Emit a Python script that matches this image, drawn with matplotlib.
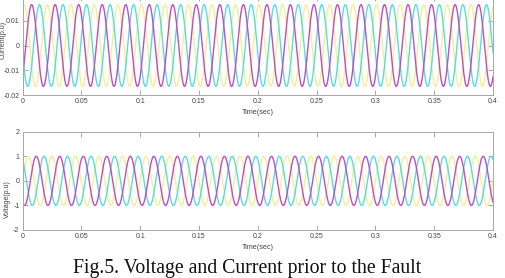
import numpy as np
import matplotlib
matplotlib.use('Agg')
import matplotlib.pyplot as plt

plt.rcParams['font.family'] = ['Liberation Sans', 'DejaVu Sans']

# signal parameters (50 Hz, 0..0.4 s)
freq = 50.0
t_end = 0.4
phase_names = ['yellow', 'cyan', 'magenta']
phase_colors = ['#f3ef96', '#5adcdc', '#bd4fbf']
current_amp = [0.0165, 0.0165, 0.0165]
current_phase_deg = [70, -170, -50]
voltage_amp = [1.0, 1.0, 1.0]
voltage_phase_deg = [0, 120, -120]

xticks = [0, 0.05, 0.1, 0.15, 0.2, 0.25, 0.3, 0.35, 0.4]
xticklabels = ['0', '0.05', '0.1', '0.15', '0.2', '0.25', '0.3', '0.35', '0.4']
cur_yticks = [-0.02, -0.01, 0, 0.01, 0.02]
cur_yticklabels = ['-0.02', '-0.01', '0', '0.01', '']   # 0.02 is cropped away in the figure
volt_yticks = [-2, -1, 0, 1, 2]
volt_yticklabels = ['-2', '-1', '0', '1', '2']

t = np.linspace(0, t_end, 4001)
w = 2 * np.pi * freq

W, H = 505, 278
fig = plt.figure(figsize=(W / 100, H / 100), dpi=100)

def px_axes(left, right, top, bottom):
    return fig.add_axes([left / W, (H - bottom) / H, (right - left) / W, (bottom - top) / H])

def style(ax, yticks, yticklabels, ylim, ylabel, ylab_x, ylab_y):
    ax.set_xlim(0, t_end)
    ax.set_ylim(*ylim)
    ax.set_xticks(xticks)
    ax.set_xticklabels(xticklabels)
    ax.set_yticks(yticks)
    ax.set_yticklabels(yticklabels)
    ax.tick_params(direction='in', length=3.5, width=0.6, colors='#9a9a9a',
                   labelcolor='#444444', labelsize=5.0, pad=2.2,
                   top=True, right=True)
    for s in ax.spines.values():
        s.set_color('#a8a8a8')
        s.set_linewidth(0.7)
    ax.set_xlabel('Time(sec)', fontsize=5.2, color='#444444', labelpad=3)
    ax.set_ylabel(ylabel, fontsize=5.0, color='#444444', va='center')
    ax.yaxis.set_label_coords(ylab_x, ylab_y)

ax1 = px_axes(22.5, 493, -4, 95)
for amp, ph, c in zip(current_amp, current_phase_deg, phase_colors):
    ax1.plot(t, amp * np.sin(w * t + np.deg2rad(ph)), color=c, lw=1.0)
style(ax1, cur_yticks, cur_yticklabels, (-0.02, 0.02), 'Current(p.u)', -0.042, 0.56)

ax2 = px_axes(22.5, 493, 131.7, 230)
for amp, ph, c in zip(voltage_amp, voltage_phase_deg, phase_colors):
    ax2.plot(t, amp * np.sin(w * t + np.deg2rad(ph)), color=c, lw=1.0)
style(ax2, volt_yticks, volt_yticklabels, (-2, 2), 'Voltage(p.u)', -0.031, 0.31)

fig.text(247 / W, (H - 273.5) / H, 'Fig.5. Voltage and Current prior to the Fault',
         family='Liberation Serif', fontsize=14.2, ha='center', va='baseline', color='#111111')

fig.savefig('out.png', dpi=100)
